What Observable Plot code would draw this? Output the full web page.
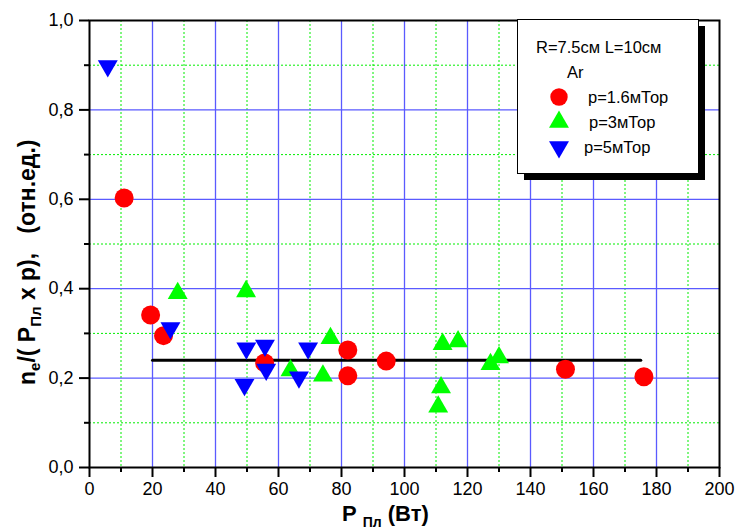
<!DOCTYPE html>
<html>
<head>
<meta charset="utf-8">
<script src="https://cdn.jsdelivr.net/npm/d3@7"></script>
<script src="https://cdn.jsdelivr.net/npm/@observablehq/plot@0.6"></script>
<style>
  body { margin: 0; background: white; }
  #chart { position: relative; width: 736px; height: 531px; }
</style>
</head>
<body>
<div id="chart"></div>
<script>
// ---- data ----
const p16_P   = [11.0, 19.4, 23.5, 55.6, 82.0, 82.0, 94.2, 151.1, 176.0];
const p16_val = [0.603, 0.341, 0.295, 0.234, 0.263, 0.205, 0.238, 0.220, 0.203];

const p3_P    = [28.0, 49.7, 63.8, 74.1, 76.5, 112.1, 117.0, 111.6, 110.7, 127.3, 130.0];
const p3_val  = [0.390, 0.394, 0.217, 0.205, 0.289, 0.276, 0.282, 0.179, 0.136, 0.231, 0.246];

const p5_P    = [5.8, 25.7, 49.8, 49.2, 55.7, 56.1, 66.5, 69.4];
const p5_val  = [0.898, 0.312, 0.267, 0.185, 0.273, 0.219, 0.202, 0.267];

const fitP    = [20, 175];
const fitVal  = [0.24, 0.24];

const xMajor = [0, 20, 40, 60, 80, 100, 120, 140, 160, 180, 200];
const xMinor = [10, 30, 50, 70, 90, 110, 130, 150, 170, 190];
const yMajor = [0, 0.2, 0.4, 0.6, 0.8, 1.0];
const yMinor = [0.1, 0.3, 0.5, 0.7, 0.9];

const legendTitle = ["R=7.5см L=10см", "Ar"];
const legendLabels = ["p=1.6мТор", "p=3мТор", "p=5мТор"];
const colors = ["#ff0000", "#00ff00", "#0000ff"];

const FONT = "Arial, 'Liberation Sans', sans-serif";
const blueGrid = "#5a5aff";
const greenGrid = "#00ee00";

const plot = Plot.plot({
  width: 736,
  height: 531,
  marginLeft: 89,
  marginRight: 17,
  marginTop: 20,
  marginBottom: 64,
  x: { domain: [0, 200] },
  y: { domain: [0, 1] },
  style: { fontFamily: FONT, fontSize: "18px", color: "black", background: "white", overflow: "visible" },
  marks: [
    Plot.ruleX(xMinor, { stroke: greenGrid, strokeWidth: 1, strokeDasharray: "2,2" }),
    Plot.ruleY(yMinor, { stroke: greenGrid, strokeWidth: 1, strokeDasharray: "2,2" }),
    Plot.ruleX(xMajor.filter(d => d > 0 && d < 200), { stroke: blueGrid, strokeWidth: 1.3 }),
    Plot.ruleY(yMajor.filter(d => d > 0 && d < 1), { stroke: blueGrid, strokeWidth: 1.3 }),
    Plot.axisX(xMajor, { tickSize: 10, tickPadding: 5, strokeWidth: 2, tickFormat: d => String(d), label: null, fontSize: 18 }),
    Plot.axisX(xMinor, { tickSize: 5, strokeWidth: 2, tickFormat: () => "", label: null }),
    Plot.axisY(yMajor, { tickSize: 10, tickPadding: 6, strokeWidth: 2, tickFormat: d => d.toFixed(1).replace(".", ","), label: null, fontSize: 18 }),
    Plot.axisY(yMinor, { tickSize: 5, strokeWidth: 2, tickFormat: () => "", label: null }),
    Plot.frame({ stroke: "black", strokeWidth: 2 }),
    Plot.line(fitVal, { x: fitP, y: fitVal, stroke: "black", strokeWidth: 3 }),
    Plot.dot(p16_val, { x: p16_P, y: p16_val, r: 9.5, symbol: "circle", fill: colors[0], stroke: "none" }),
    Plot.dot(p3_val, { x: p3_P, y: p3_val, r: 7.4, symbol: "triangle", fill: colors[1], stroke: "none" }),
    Plot.dot(p5_val, { x: p5_P, y: p5_val, r: 7.4, symbol: "triangle", rotate: 180, fill: colors[2], stroke: "none" })
  ]
});

document.getElementById("chart").appendChild(plot);

const svg = d3.select(plot);

// axis titles
const yt = svg.append("text")
  .attr("transform", "translate(35,385) rotate(-90)")
  .attr("text-anchor", "start")
  .attr("font-family", FONT)
  .attr("font-weight", "bold")
  .attr("font-size", 23)
  .attr("fill", "black");
yt.append("tspan").text("n");
yt.append("tspan").attr("font-size", 15).attr("dy", 5).text("e");
yt.append("tspan").attr("dy", -5).text("/(\u00a0P");
yt.append("tspan").attr("font-size", 15).attr("dy", 6).text("Пл");
yt.append("tspan").attr("dy", -6).text("\u00a0x\u00a0p),\u00a0\u00a0\u00a0(отн.ед.)");

const xt = svg.append("text")
  .attr("x", 342).attr("y", 521)
  .attr("text-anchor", "start")
  .attr("font-family", FONT)
  .attr("font-weight", "bold")
  .attr("font-size", 22)
  .attr("fill", "black");
xt.append("tspan").text("P");
xt.append("tspan").attr("font-size", 14).attr("dx", 6).attr("dy", 6).text("Пл");
xt.append("tspan").attr("dy", -6).text("\u00a0(Вт)");

// legend
const lg = svg.append("g").attr("font-family", FONT).attr("font-size", 16.5).attr("fill", "black").attr("text-anchor", "start");
lg.append("rect").attr("x", 524).attr("y", 26).attr("width", 181).attr("height", 154).attr("fill", "black");
lg.append("rect").attr("x", 517.5).attr("y", 19.5).attr("width", 181).attr("height", 154)
  .attr("fill", "white").attr("stroke", "black").attr("stroke-width", 1);
lg.append("text").attr("x", 536).attr("y", 53).text(legendTitle[0]);
lg.append("text").attr("x", 567).attr("y", 78).text(legendTitle[1]);
const symY = [97, 122, 147];
const symTypes = [d3.symbolCircle, d3.symbolTriangle, d3.symbolTriangle];
const symSizes = [Math.PI * 8.7 * 8.7, Math.PI * 7.4 * 7.4, Math.PI * 7.4 * 7.4];
const textX = [588, 589, 584];
const textY = [103, 128, 153];
legendLabels.forEach((lab, i) => {
  lg.append("path")
    .attr("d", d3.symbol(symTypes[i], symSizes[i])())
    .attr("transform", `translate(559,${symY[i]})` + (i === 2 ? " rotate(180)" : ""))
    .attr("fill", colors[i]);
  lg.append("text").attr("x", textX[i]).attr("y", textY[i]).text(lab);
});
</script>
</body>
</html>
